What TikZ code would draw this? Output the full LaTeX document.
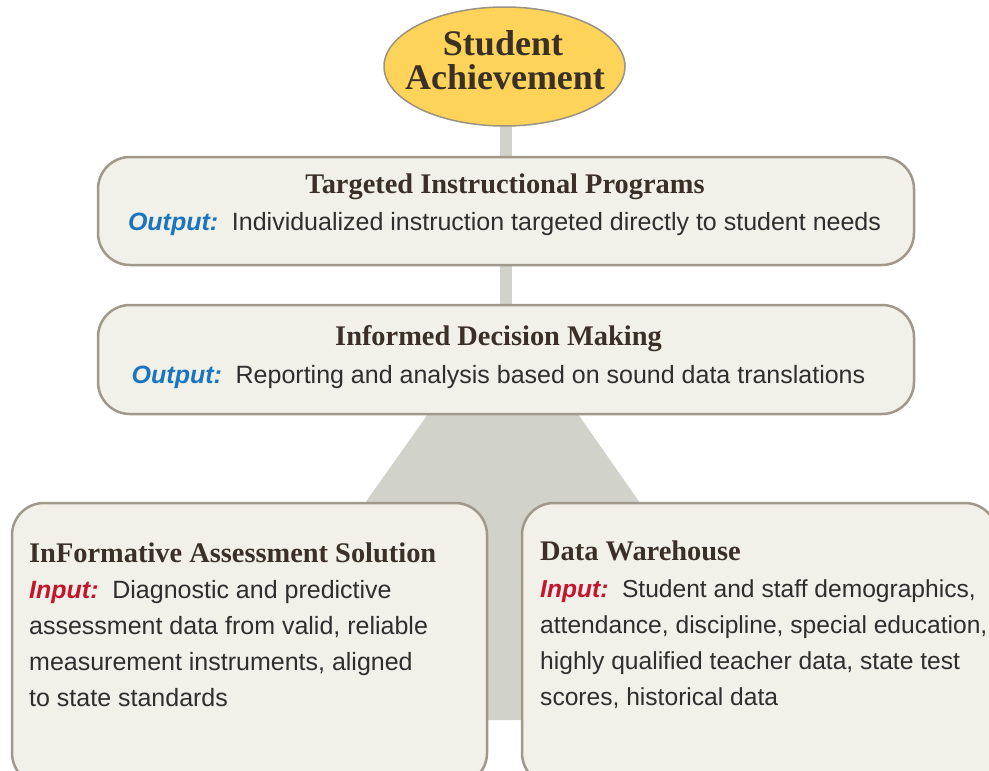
\documentclass[tikz,border=0pt]{standalone}
\usepackage{fontspec}
\setmainfont{Liberation Serif}
\setsansfont{Liberation Sans}
\usetikzlibrary{shapes.geometric,backgrounds}
\definecolor{boxfill}{HTML}{F1F0E9}
\definecolor{boxline}{HTML}{A0998B}
\definecolor{stemgray}{HTML}{D1D2C9}
\definecolor{goldfill}{HTML}{FDD35A}
\definecolor{ellline}{HTML}{9A9384}
\definecolor{titlecol}{HTML}{3A3027}
\definecolor{bodycol}{HTML}{2E2E2E}
\definecolor{outblue}{HTML}{1A74BE}
\definecolor{inred}{HTML}{C3162E}
\newcommand{\outlbl}{\textcolor{outblue}{\bfseries\itshape Output:}\hspace{0.55em}}
\newcommand{\inlbl}{\textcolor{inred}{\bfseries\itshape Input:}\hspace{0.55em}}
\begin{document}
\begin{tikzpicture}[x=1pt,y=-1pt,
  panel/.style={draw=boxline, line width=2.5pt, fill=boxfill, rounded corners=32pt, inner sep=0pt, rectangle},
  ttl/.style={font=\fontsize{28.4}{30}\selectfont\bfseries, text=titlecol, inner sep=0pt},
  bigttl/.style={font=\fontsize{36}{36}\selectfont\bfseries, text=titlecol, inner sep=0pt, anchor=base},
  body/.style={font=\sffamily\fontsize{25}{30}\selectfont, text=bodycol, inner sep=0pt},
  stem/.style={draw=stemgray, line width=12pt},
]
\useasboundingbox (0,0) rectangle (989,771);
\clip (0,0) rectangle (989,771);

% ellipse
\node[ellipse, draw=ellline, line width=1.5pt, fill=goldfill, minimum width=241pt, minimum height=119pt, inner sep=0pt] (sa) at (504.5,66.5) {};
\node[bigttl] (sa1) at (503,55) {Student};
\node[bigttl] (sa2) at (505,89) {Achievement};

% panels
\node[panel, minimum width=816pt, minimum height=108pt] (b1) at (506,211) {};
\node[panel, minimum width=816pt, minimum height=109pt] (b2) at (506,359.5) {};
\node[panel, minimum width=475pt, minimum height=282pt] (b3) at (249.5,644) {};
\node[panel, minimum width=475pt, minimum height=282pt] (b4) at (759.5,644) {};

% background connectors
\begin{pgfonlayer}{background}
  \draw[stem] (b1.north |- sa.center) -- (b1.north);
  \draw[stem] (b1.south) -- (b2.north);
  \fill[stemgray] (428,414) -- (578,414) -- (640,503) -- (640,720) -- (365,720) -- (365,503) -- cycle;
\end{pgfonlayer}

% box 1
\node[ttl, anchor=base] (t1) at (505,193) {Targeted Instructional Programs};
\node[body, anchor=base] (o1) at (504.5,230) {\outlbl Individualized instruction targeted directly to student needs};

% box 2
\node[ttl, anchor=base] (t2) at (498.5,345) {Informed Decision Making};
\node[body, anchor=base] (o2) at (498.5,383) {\outlbl Reporting and analysis based on sound data translations};

% box 3
\node[ttl, anchor=base west] (t3) at (29,562) {InFormative Assessment Solution};
\node[body, anchor=base west] (l31) at (29,598) {\inlbl Diagnostic and predictive};
\node[body, anchor=base west] (l32) at (29,634.3) {assessment data from valid, reliable};
\node[body, anchor=base west] (l33) at (29,670.6) {measurement instruments, aligned};
\node[body, anchor=base west] (l34) at (29,706.9) {to state standards};

% box 4
\node[ttl, anchor=base west] (t4) at (540,560) {Data Warehouse};
\node[body, anchor=base west, font=\sffamily\fontsize{24.6}{30}\selectfont] (l41) at (540,597) {\inlbl Student and staff demographics,};
\node[body, anchor=base west, font=\sffamily\fontsize{24.6}{30}\selectfont] (l42) at (540,633) {attendance, discipline, special education,};
\node[body, anchor=base west, font=\sffamily\fontsize{24.6}{30}\selectfont] (l43) at (540,669) {highly qualified teacher data, state test};
\node[body, anchor=base west, font=\sffamily\fontsize{24.6}{30}\selectfont] (l44) at (540,705) {scores, historical data};
\end{tikzpicture}
\end{document}
